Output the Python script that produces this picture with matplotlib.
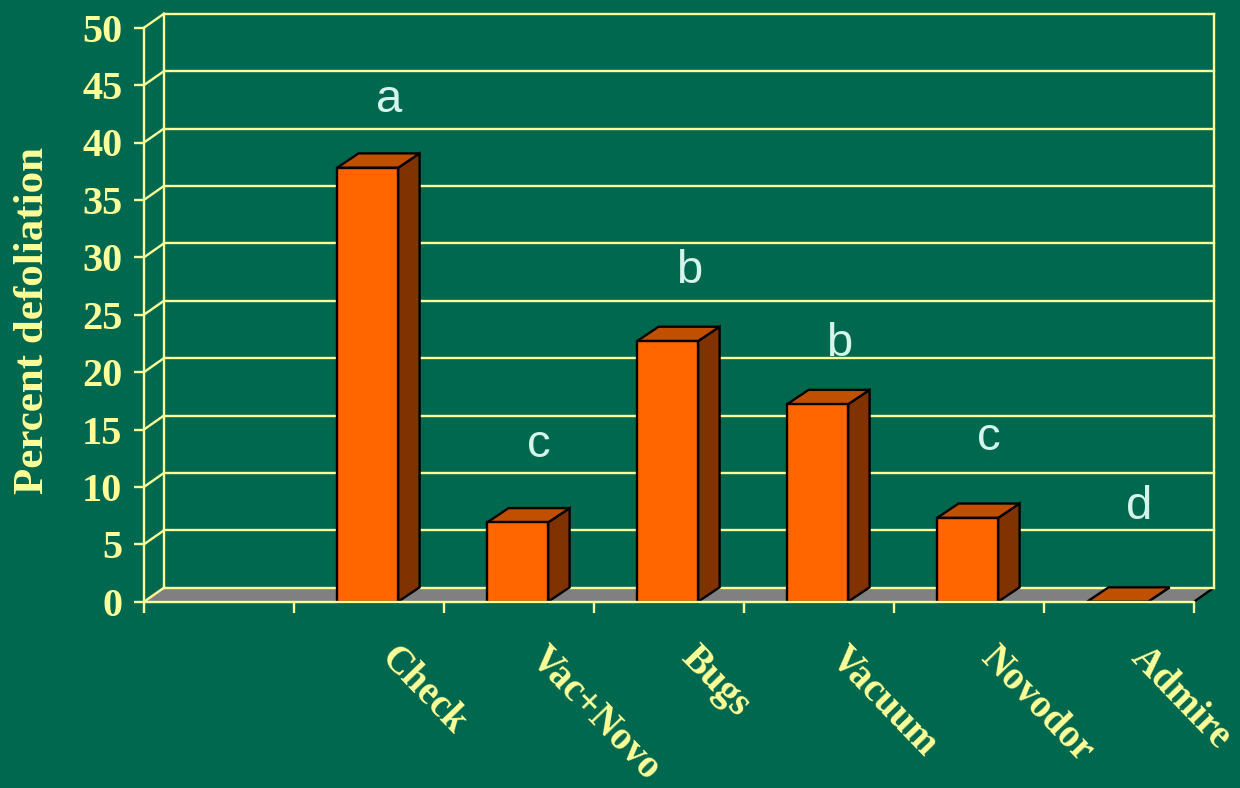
import matplotlib
matplotlib.use("Agg")
import matplotlib.pyplot as plt
from matplotlib.patches import Polygon, Rectangle
from matplotlib.transforms import offset_copy

# ---- data ----
categories = ["Check", "Vac+Novo", "Bugs", "Vacuum", "Novodor", "Admire"]
defoliation = [37.8, 6.9, 22.7, 17.2, 7.3, 0.0]
letters = ["a", "c", "b", "b", "c", "d"]
letter_base = [42.7, 12.6, 27.8, 21.4, 13.2, 7.2]
yticks = list(range(0, 51, 5))
n_slots = 7          # first slot is empty in the original chart
first_slot = 1

# ---- style ----
BG = "#00684F"
YEL = "#FFFF99"
GRAY = "#808080"
FRONT = "#FF6600"
TOP = "#C05000"
SIDE = "#803300"
LETTER = "#D4F4EC"
SERIF = ["Liberation Serif", "DejaVu Serif"]
SANS = ["Liberation Sans", "DejaVu Sans"]

W, H, DPI = 1240, 788, 100
fig = plt.figure(figsize=(W / DPI, H / DPI), dpi=DPI, facecolor=BG)
ax_left, ax_right, ax_top, ax_bot = 144, 1194, 27.7, 601.7
ax = fig.add_axes([ax_left / W, (H - ax_bot) / H, (ax_right - ax_left) / W, (ax_bot - ax_top) / H])
ax.set_facecolor("none")
ax.set_xlim(0, n_slots)
ax.set_ylim(0, yticks[-1])

# pixel -> data conversions
px_x = (ax_right - ax_left) / n_slots
px_y = (ax_bot - ax_top) / yticks[-1]
wdx, wdy = 20 / px_x, 14 / px_y      # wall depth
bdx, bdy = 21.5 / px_x, 14.4 / px_y  # bar depth
lw = 1.7

# floor
ax.add_patch(Polygon([(0, 0), (n_slots, 0), (n_slots + wdx, wdy), (wdx, wdy)],
                     closed=True, fc=GRAY, ec="none", zorder=1, clip_on=False))
ax.plot([n_slots, n_slots + wdx], [0, wdy], color="black", lw=lw, zorder=1.5, clip_on=False)

# back wall gridlines + diagonals
for v in yticks:
    ax.plot([wdx, n_slots + wdx], [v + wdy, v + wdy], color=YEL, lw=lw, zorder=2, clip_on=False)
    ax.plot([0, wdx], [v, v + wdy], color=YEL, lw=lw, zorder=2, clip_on=False)
for xe in (wdx, n_slots + wdx):
    ax.plot([xe, xe], [wdy, yticks[-1] + wdy], color=YEL, lw=lw, zorder=2, clip_on=False)

# bars
bw = 0.407
boff = 0.287
for i, v in enumerate(defoliation):
    s = first_slot + i
    xl = s + boff
    xr = xl + bw
    ax.add_patch(Polygon([(xr, 0), (xr + bdx, bdy), (xr + bdx, v + bdy), (xr, v)],
                         closed=True, fc=SIDE, ec="black", lw=lw, zorder=5, clip_on=False,
                         joinstyle="miter"))
    ax.add_patch(Polygon([(xl, v), (xr, v), (xr + bdx, v + bdy), (xl + bdx, v + bdy)],
                         closed=True, fc=TOP, ec="black", lw=lw, zorder=5, clip_on=False,
                         joinstyle="miter"))
    ax.add_patch(Rectangle((xl, 0), bw, v, fc=FRONT, ec="black", lw=lw, zorder=6,
                           clip_on=False, joinstyle="miter"))

# significance letters
for i, (l, yb) in enumerate(zip(letters, letter_base)):
    s = first_slot + i
    ax.text(s + 0.5 + 20 / px_x, yb, l, ha="center", va="baseline", fontsize=34,
            family=SANS, color=LETTER, zorder=8)

# axes spines and ticks
for sp in ("top", "right"):
    ax.spines[sp].set_visible(False)
for sp in ("left", "bottom"):
    ax.spines[sp].set_color(YEL)
    ax.spines[sp].set_linewidth(lw)
    ax.spines[sp].set_zorder(7)
ax.set_yticks(yticks)
ax.set_yticklabels([str(t) for t in yticks])
ax.set_xticks(range(0, n_slots + 1))
ax.set_xticklabels([])
ax.tick_params(axis="y", direction="out", length=7.5, width=lw, color=YEL,
               labelcolor=YEL, labelsize=29, pad=8)
ax.tick_params(axis="x", direction="out", length=8, width=lw, color=YEL)
for t in ax.get_yticklabels():
    t.set_fontfamily(SERIF)
    t.set_fontweight("bold")

# category labels
lab_tr = offset_copy(ax.transData, fig=fig, x=4, y=-38, units="dots")
for i, c in enumerate(categories):
    s = first_slot + i
    ax.text(s + 0.5, 0, c, transform=lab_tr, rotation=-46, ha="left", va="top",
            fontsize=28, family=SERIF, fontweight="bold", color=YEL, clip_on=False)

fig.text(33 / W, 1 - 320 / H, "Percent defoliation", rotation=90, ha="center", va="center",
         fontsize=31, family=SERIF, fontweight="bold", color=YEL)

fig.savefig("out.png", dpi=DPI, facecolor=BG)
